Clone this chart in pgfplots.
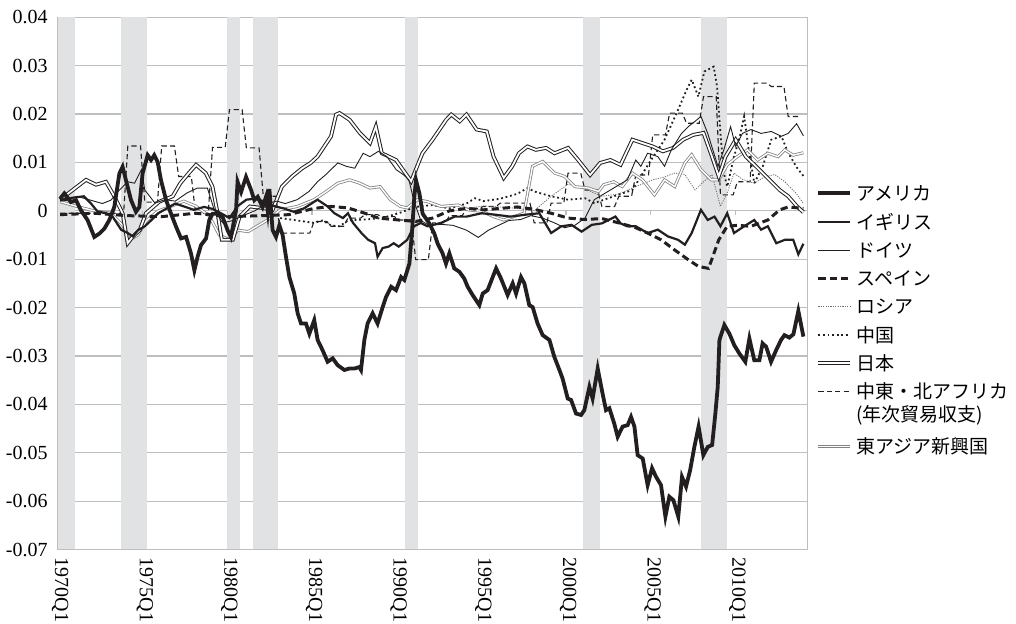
\documentclass[border=0pt]{standalone}
\usepackage{pgfplots}
\pgfplotsset{compat=1.18}
\usepackage{fontspec}
\setmainfont{Liberation Serif}
\newfontfamily\jp{Noto Sans CJK JP}
\definecolor{ink}{RGB}{35,31,32}
\definecolor{bandc}{RGB}{225,226,228}
\definecolor{gridc}{RGB}{190,190,190}
\definecolor{niec}{RGB}{130,130,130}
\tikzset{
  sUS/.style={ink, line width=1.9pt},
  sUK/.style={ink, line width=1.1pt},
  sDE/.style={ink, line width=0.45pt},
  sES/.style={ink, line width=1.5pt, dash pattern=on 3.6pt off 2pt},
  sRU/.style={ink!65, line width=0.4pt, dash pattern=on 0.6pt off 0.6pt},
  sCN/.style={ink, line width=0.9pt, dash pattern=on 0.9pt off 1.4pt},
  sJP/.style={ink, line width=0.5pt, double=white, double distance=0.9pt},
  sME/.style={ink, line width=0.55pt, dash pattern=on 2.6pt off 1.6pt},
  sNIE/.style={niec, line width=0.4pt, double=white, double distance=0.7pt},
  leg/.style={anchor=west, inner sep=0pt, font=\jp\fontsize{9.5}{11}\selectfont},
}
\begin{document}
\begin{tikzpicture}
\path[use as bounding box] (-29pt,-37.25pt) rectangle (479pt,274.75pt);
\begin{axis}[
  at={(0,0)}, anchor=south west, scale only axis,
  width=374.6pt, height=266.1pt,
  xmin=1969.875, xmax=2014.125, ymin=-0.07, ymax=0.04,
  axis line style={draw=gridc, line width=0.6pt},
  ymajorgrids, grid style={draw=gridc, line width=0.6pt},
  major tick length=0pt,
  scaled y ticks=false, scaled x ticks=false,
  ytick={-0.07,-0.06,-0.05,-0.04,-0.03,-0.02,-0.01,0,0.01,0.02,0.03,0.04},
  yticklabels={-0.07,-0.06,-0.05,-0.04,-0.03,-0.02,-0.01,0,0.01,0.02,0.03,0.04},
  yticklabel style={font=\fontsize{10}{12}\selectfont, inner sep=0pt, xshift=-5pt},
  xtick={1970,1975,1980,1985,1990,1995,2000,2005,2010},
  xticklabels={1970Q1,1975Q1,1980Q1,1985Q1,1990Q1,1995Q1,2000Q1,2005Q1,2010Q1},
  xticklabel style={font=\fontsize{10}{12}\selectfont, rotate=-90, anchor=west, inner sep=0pt},
  xticklabel shift=4pt,
  clip=true,
]
% recession bands
\addplot[fill=bandc, draw=none, forget plot] coordinates {(1969.875,-0.07) (1969.875,0.04) (1970.875,0.04) (1970.875,-0.07)};
\addplot[fill=bandc, draw=none, forget plot] coordinates {(1973.625,-0.07) (1973.625,0.04) (1975.125,0.04) (1975.125,-0.07)};
\addplot[fill=bandc, draw=none, forget plot] coordinates {(1979.875,-0.07) (1979.875,0.04) (1980.625,0.04) (1980.625,-0.07)};
\addplot[fill=bandc, draw=none, forget plot] coordinates {(1981.375,-0.07) (1981.375,0.04) (1982.875,0.04) (1982.875,-0.07)};
\addplot[fill=bandc, draw=none, forget plot] coordinates {(1990.375,-0.07) (1990.375,0.04) (1991.125,0.04) (1991.125,-0.07)};
\addplot[fill=bandc, draw=none, forget plot] coordinates {(2000.875,-0.07) (2000.875,0.04) (2001.875,0.04) (2001.875,-0.07)};
\addplot[fill=bandc, draw=none, forget plot] coordinates {(2007.875,-0.07) (2007.875,0.04) (2009.375,0.04) (2009.375,-0.07)};
\pgfplotsinvokeforeach{1974.875,1979.875,1984.875,1989.875,1994.875,1999.875,2004.875,2009.875}{
  \draw[gridc, line width=0.6pt] (axis cs:#1,0) -- (axis cs:#1,-0.0008);
}
% Middle East & North Africa (annual)
\addplot[sME] coordinates {(1970,-0.0005) (1973.75,-0.0005) (1974,0.0134) (1974.75,0.0134) (1975,0.0018) (1975.75,0.0018)
 (1976,0.0134) (1976.75,0.0134) (1977,0.0071) (1977.75,0.0071) (1978,-0.0005) (1978.75,-0.0005) (1979,0.0131) (1979.75,0.0131)
 (1980,0.0209) (1980.75,0.0209) (1981,0.013) (1981.75,0.013) (1982,0.003) (1982.75,0.003) (1983,-0.0046) (1984.75,-0.0046)
 (1985,-0.0022) (1985.75,-0.0022) (1986,-0.0032) (1986.75,-0.0032) (1987,-0.0015) (1987.75,-0.0015) (1988,-0.0008) (1988.75,-0.0008)
 (1989,-0.0012) (1989.75,-0.0012) (1990,-0.0019) (1990.75,-0.0019) (1991,-0.0101) (1991.75,-0.0101) (1992,-0.0025) (1992.75,-0.0025)
 (1993,-0.001) (1993.75,-0.001) (1994,0.0005) (1994.75,0.0005) (1995,0.0009) (1995.75,0.0009) (1996,0.0016) (1997.75,0.0016)
 (1998,-0.0025) (1998.75,-0.0025) (1999,0.0016) (1999.75,0.0016) (2000,0.0078) (2000.75,0.0078) (2001,0.0043) (2001.75,0.0043)
 (2002,0.0009) (2002.75,0.0009) (2003,0.003) (2003.75,0.003) (2004,0.0074) (2004.75,0.0074) (2005,0.0157) (2005.75,0.0157)
 (2006,0.0202) (2006.75,0.0202) (2007,0.0181) (2007.75,0.0181) (2008,0.0236) (2008.75,0.0236) (2009,0.0033) (2009.75,0.0033)
 (2010,0.006) (2010.75,0.006) (2011,0.0264) (2011.75,0.0264) (2012,0.0257) (2012.75,0.0257) (2013,0.0195) (2013.75,0.0195)};
% Russia
\addplot[sRU] coordinates {(1994,0.0005) (1995,0.001) (1996,0.0008) (1997,0.0005) (1998,0.0) (1999,0.003) (2000,0.0055)
 (2001,0.0045) (2002,0.003) (2003,0.0035) (2004,0.005) (2005,0.0064) (2005.7,0.007) (2006.3,0.0078) (2006.9,0.0075)
 (2007.5,0.0043) (2008,0.006) (2008.5,0.0075) (2009,0.0009) (2009.4,0.0037) (2009.8,0.0078) (2010.3,0.0065) (2011,0.0057)
 (2011.6,0.007) (2012.2,0.0075) (2012.8,0.006) (2013.5,0.0035) (2013.9,0.0015)};
% China
\addplot[sCN] coordinates {(1983,-0.0015) (1984,-0.002) (1985,-0.0025) (1985.5,-0.002) (1986,-0.003) (1986.5,-0.0032)
 (1987,-0.002) (1988,-0.0018) (1989,-0.0015) (1990,-0.0005) (1991,0.0008) (1992,0.0012) (1993,0.0005) (1994,0.0015)
 (1994.5,0.0026) (1995,0.002) (1996,0.0025) (1997,0.0035) (1997.6,0.0047) (1998,0.004) (1998.5,0.0035) (1999,0.003)
 (2000,0.0023) (2001,0.0026) (2001.55,0.0016) (2002.7,0.003) (2003.8,0.0043) (2004.9,0.0105) (2005.7,0.0147) (2006.5,0.0209)
 (2007,0.025) (2007.3,0.0271) (2007.7,0.0236) (2008.05,0.0288) (2008.6,0.0298) (2008.8,0.0257) (2009,0.016) (2009.2,0.0078)
 (2009.4,0.005) (2009.8,0.0112) (2010.1,0.0147) (2010.4,0.0195) (2010.7,0.012) (2011,0.0057) (2011.5,0.0092) (2012,0.0147)
 (2012.6,0.0154) (2013,0.012) (2013.5,0.009) (2013.9,0.0072)};
% East Asian NIEs
\addplot[sNIE] coordinates {(1970,0.0019) (1971,0.0009) (1972,0.0) (1973,-0.0005) (1973.7,-0.003) (1974.1,-0.006) (1974.6,-0.005)
 (1975.1,-0.002) (1975.8,0.0) (1976.6,0.001) (1977.3,0.002) (1978,0.001) (1978.8,-0.001) (1979.4,-0.005) (1980,-0.006)
 (1980.5,-0.004) (1981.1,-0.0043) (1982.25,-0.0019) (1983,0.0002) (1984,0.0009) (1985,0.0023) (1985.6,0.0037) (1986.4,0.0057)
 (1987.1,0.0064) (1987.7,0.0057) (1988.3,0.0047) (1988.9,0.005) (1989.5,0.0023) (1990.1,0.0009) (1990.5,0.0006) (1991.1,0.0023)
 (1991.7,0.0019) (1992.5,0.0009) (1993.5,0.0012) (1994.1,0.0002) (1994.9,-0.0001) (1995.6,-0.0012) (1996.2,-0.0019)
 (1996.8,-0.0012) (1997.4,-0.0005) (1997.9,0.0092) (1998.5,0.0102) (1999.2,0.0078) (1999.8,0.0071) (2000.4,0.005)
 (2001.2,0.0047) (2001.8,0.004) (2002.1,0.0054) (2002.7,0.006) (2003.2,0.005) (2003.8,0.0078) (2004.4,0.0064) (2005.1,0.0033)
 (2005.7,0.0064) (2006.3,0.005) (2006.9,0.0099) (2007.3,0.0116) (2007.85,0.0085) (2008.45,0.0064) (2008.9,0.0064)
 (2009.4,0.0095) (2010,0.0112) (2010.6,0.0126) (2011.2,0.0105) (2011.8,0.0119) (2012.4,0.0112) (2012.8,0.0126) (2013.3,0.0115)
 (2013.9,0.012)};
% Japan
\addplot[sJP] coordinates {(1970,0.0023) (1971.53,0.0064) (1972.12,0.0054) (1972.71,0.006) (1973.2,0.003) (1973.69,-0.0005)
 (1973.99,-0.0067) (1974.3,-0.0053) (1974.7,-0.004) (1975.07,-0.0005) (1975.86,0.0019) (1976.65,0.003) (1977.1,0.0057)
 (1977.6,0.0078) (1978.03,0.0095) (1978.6,0.0078) (1979,0.005) (1979.3,-0.0005) (1979.55,-0.006) (1980.2,-0.006)
 (1980.6,-0.0012) (1981.2,0.0009) (1981.9,0.0006) (1982.55,0.0002) (1983.1,0.005) (1983.7,0.0071) (1984.3,0.0088)
 (1984.8,0.0099) (1985.2,0.0112) (1985.6,0.0133) (1986,0.0154) (1986.3,0.0199) (1986.5,0.0202) (1987.1,0.0188) (1987.7,0.0161)
 (1988.3,0.014) (1988.65,0.0174) (1989,0.0119) (1989.84,0.0105) (1990.73,0.0061) (1991.4,0.0119) (1992,0.0147) (1992.8,0.0188)
 (1993.1,0.0199) (1993.6,0.0185) (1994,0.0199) (1994.6,0.0168) (1995.2,0.0164) (1995.6,0.0112) (1996.2,0.0068) (1996.7,0.0092)
 (1997.1,0.0119) (1997.6,0.0133) (1998.1,0.0126) (1998.7,0.013) (1999.2,0.0119) (2000,0.013) (2000.6,0.0105) (2001.3,0.0074)
 (2001.9,0.0099) (2002.5,0.0105) (2003.1,0.0095) (2003.8,0.0147) (2004.4,0.014) (2005,0.0133) (2005.6,0.0123) (2006.2,0.013)
 (2006.8,0.0147) (2007.4,0.0157) (2008,0.0161) (2008.5,0.0112) (2008.9,0.0071) (2009.3,0.0112) (2009.9,0.0147) (2010.5,0.0112)
 (2011.1,0.0092) (2011.7,0.0071) (2012.5,0.0043) (2013,0.003) (2013.5,0.001) (2013.9,-0.0003)};
% Spain
\addplot[sES] coordinates {(1970,-0.0008) (1972,-0.0005) (1974,-0.001) (1976,-0.0012) (1978,-0.0005) (1980,-0.0012) (1982,-0.001)
 (1983.5,-0.0008) (1985,0.0005) (1986,0.0009) (1987,0.0006) (1988,-0.0005) (1988.8,-0.0015) (1990,-0.0019) (1991,-0.0022)
 (1992,-0.0015) (1993,0.0) (1994,0.0005) (1995,0.0002) (1996,0.0005) (1997,0.0008) (1998,0.0003) (1999,-0.0005) (2000,-0.0015)
 (2001,-0.0018) (2002,-0.0016) (2003,-0.0025) (2004,-0.0035) (2004.7,-0.0046) (2005.5,-0.006) (2006.3,-0.0081) (2007.1,-0.0101)
 (2007.7,-0.0115) (2008.3,-0.0119) (2008.9,-0.006) (2009.4,-0.0032) (2010,-0.003) (2010.8,-0.0032) (2011.8,-0.0019)
 (2012.5,0.0002) (2013,0.0008) (2013.9,0.0005)};
% Germany
\addplot[sDE] coordinates {(1970,0.002) (1970.5,0.0022) (1971,0.003) (1971.5,0.0025) (1972,0.002) (1972.5,0.0015) (1973,0.0022)
 (1973.5,0.0043) (1974,0.006) (1974.4,0.0057) (1974.8,0.0085) (1975,0.0043) (1975.6,0.0016) (1976.2,0.0023) (1976.8,0.002)
 (1977.5,0.0037) (1978.1,0.0047) (1978.7,0.0047) (1979.1,0.0002) (1979.6,-0.0025) (1980.2,-0.002) (1980.8,-0.001) (1981.5,0.0)
 (1982.2,0.0015) (1982.8,0.002) (1983.3,0.0015) (1984,0.0023) (1984.7,0.004) (1985.2,0.006) (1985.7,0.0075) (1986.4,0.0099)
 (1986.9,0.0092) (1987.4,0.0088) (1987.9,0.0119) (1988.3,0.0112) (1988.8,0.0123) (1989.3,0.0112) (1989.85,0.0085)
 (1990.3,0.0074) (1990.6,0.0064) (1990.9,0.002) (1991.3,-0.002) (1991.8,-0.003) (1992.5,-0.0028) (1993.2,-0.003) (1994,-0.004)
 (1994.7,-0.0055) (1995.3,-0.004) (1995.9,-0.003) (1996.5,-0.002) (1997.2,-0.0018) (1997.8,-0.001) (1998.5,-0.0015)
 (1999.2,-0.0025) (1999.8,-0.0035) (2000.4,-0.003) (2001,-0.0015) (2001.55,0.0023) (2002.5,0.0043) (2003.5,0.0064)
 (2004,0.0105) (2004.3,0.0092) (2004.7,0.0119) (2005.3,0.0112) (2005.7,0.0092) (2006.1,0.0126) (2006.7,0.016) (2007.1,0.0174)
 (2007.5,0.0185) (2007.85,0.0195) (2008.25,0.016) (2008.85,0.0092) (2009.2,0.0126) (2009.6,0.0174) (2009.9,0.0133)
 (2010.3,0.016) (2010.8,0.0168) (2011.4,0.016) (2012,0.0164) (2012.6,0.0154) (2013,0.016) (2013.5,0.018) (2013.9,0.0155)};
% United Kingdom
\addplot[sUK] coordinates {(1970,0.0022) (1970.5,0.0026) (1971.4,0.003) (1971.8,0.0016) (1972.2,-0.0001) (1972.7,-0.0005)
 (1973.1,-0.0012) (1973.6,-0.0039) (1974,-0.0046) (1974.3,-0.0053) (1974.6,-0.004) (1975,-0.0032) (1975.4,-0.0019)
 (1975.8,-0.0005) (1976.3,0.0005) (1976.8,0.0015) (1977.4,0.0008) (1977.9,0.0002) (1978.5,0.0008) (1979,0.0004)
 (1979.5,-0.0005) (1980,-0.0015) (1980.5,0.001) (1981,0.0023) (1981.5,0.0025) (1982,0.002) (1982.6,0.001) (1983.2,0.0005)
 (1983.8,-0.0002) (1984.4,0.0005) (1985.2,0.0023) (1985.8,0.0009) (1986.2,-0.0005) (1986.7,-0.0015) (1987,-0.0005)
 (1987.3,-0.0025) (1987.8,-0.0046) (1988.2,-0.006) (1988.6,-0.0067) (1988.75,-0.0095) (1989.05,-0.0077) (1989.4,-0.0074)
 (1989.7,-0.0067) (1990,-0.0074) (1990.5,-0.006) (1990.9,-0.0032) (1991.3,-0.0025) (1991.7,-0.0032) (1992.5,-0.0025)
 (1993.3,-0.0012) (1994,-0.0012) (1994.9,-0.0005) (1995.7,-0.0008) (1996.6,-0.0012) (1997.5,-0.0008) (1998.3,-0.0005)
 (1999,-0.0046) (1999.6,-0.0032) (2000.2,-0.0029) (2000.8,-0.0043) (2001.4,-0.0029) (2002,-0.0026) (2002.8,-0.0012)
 (2003.1,-0.0026) (2003.5,-0.0032) (2004,-0.0032) (2004.7,-0.0046) (2005.3,-0.0039) (2005.9,-0.0053) (2006.5,-0.006)
 (2006.9,-0.007) (2007.3,-0.0046) (2007.85,0.0002) (2008.25,-0.0019) (2008.65,-0.0012) (2009,-0.0032) (2009.4,-0.0005)
 (2009.8,-0.0046) (2010.4,-0.0032) (2011,-0.0019) (2011.4,-0.0039) (2011.8,-0.0032) (2012.3,-0.0067) (2012.8,-0.006)
 (2013.3,-0.006) (2013.6,-0.009) (2013.9,-0.0068)};
% United States
\addplot[sUS] coordinates {(1970.00,0.0025) (1970.25,0.0036) (1970.64,0.0018) (1970.94,0.0022) (1971.23,0.0001) (1971.62,-0.0019)
 (1972.02,-0.0054) (1972.32,-0.0047) (1972.61,-0.0037) (1972.91,-0.0019) (1973.20,0.0008) (1973.50,0.0077) (1973.69,0.0091)
 (1973.89,0.0063) (1974.19,0.0022) (1974.48,-0.0002) (1974.68,0.0008) (1974.87,0.0077) (1975.17,0.0115) (1975.37,0.0105)
 (1975.56,0.0115) (1975.76,0.0101) (1975.96,0.0063) (1976.26,0.0022) (1976.55,-0.0006) (1976.85,-0.0033) (1977.14,-0.0057)
 (1977.44,-0.0054) (1977.73,-0.0088) (1977.93,-0.0123) (1978.12,-0.0095) (1978.32,-0.0071) (1978.62,-0.0057) (1978.81,-0.0019)
 (1979.01,-0.0006) (1979.30,-0.0006) (1979.60,-0.0013) (1979.89,-0.0040) (1980.09,-0.0054) (1980.39,0.0001) (1980.48,0.0060)
 (1980.69,0.0039) (1980.98,0.0070) (1981.28,0.0043) (1981.47,0.0022) (1981.67,0.0029) (1981.96,0.0008) (1982.16,0.0029)
 (1982.26,0.0001) (1982.36,0.0045) (1982.55,-0.0040) (1982.75,-0.0054) (1982.95,-0.0030) (1983.14,-0.0050) (1983.34,-0.0095)
 (1983.54,-0.0137) (1983.83,-0.0171) (1984.03,-0.0212) (1984.23,-0.0233) (1984.52,-0.0233) (1984.72,-0.0254) (1985.01,-0.0226)
 (1985.21,-0.0267) (1985.50,-0.0288) (1985.80,-0.0312) (1986.10,-0.0305) (1986.39,-0.0319) (1986.79,-0.0329) (1987.08,-0.0326)
 (1987.38,-0.0326) (1987.67,-0.0323) (1987.77,-0.0329) (1987.97,-0.0267) (1988.16,-0.0233) (1988.46,-0.0212) (1988.75,-0.0233)
 (1989.05,-0.0199) (1989.25,-0.0178) (1989.55,-0.0157) (1989.84,-0.0164) (1990.14,-0.0137) (1990.33,-0.0143) (1990.63,-0.0109)
 (1990.79,-0.0040) (1990.92,0.0029) (1991.02,0.0063) (1991.22,0.0036) (1991.41,-0.0006) (1991.81,-0.0026) (1992.10,-0.0047)
 (1992.30,-0.0068) (1992.59,-0.0088) (1992.79,-0.0109) (1992.99,-0.0088) (1993.28,-0.0119) (1993.58,-0.0126) (1993.87,-0.0140)
 (1994.07,-0.0157) (1994.36,-0.0174) (1994.76,-0.0195) (1994.96,-0.0171) (1995.25,-0.0164) (1995.75,-0.0119) (1996.04,-0.0140)
 (1996.43,-0.0174) (1996.73,-0.0150) (1996.93,-0.0171) (1997.22,-0.0137) (1997.42,-0.0150) (1997.71,-0.0195) (1997.91,-0.0199)
 (1998.20,-0.0233) (1998.50,-0.0257) (1998.90,-0.0267) (1999.19,-0.0302) (1999.49,-0.0329) (1999.68,-0.0347) (1999.98,-0.0388)
 (2000.18,-0.0391) (2000.47,-0.0419) (2000.77,-0.0422) (2000.96,-0.0412) (2001.26,-0.0364) (2001.45,-0.0388) (2001.75,-0.0326)
 (2002.04,-0.0378) (2002.24,-0.0412) (2002.44,-0.0408) (2002.73,-0.0440) (2002.93,-0.0467) (2003.22,-0.0446) (2003.52,-0.0443)
 (2003.72,-0.0426) (2003.92,-0.0446) (2004.11,-0.0505) (2004.41,-0.0512) (2004.70,-0.0567) (2004.96,-0.0532) (2005.20,-0.0550)
 (2005.49,-0.0567) (2005.75,-0.0632) (2005.98,-0.0591) (2006.22,-0.0598) (2006.51,-0.0632) (2006.73,-0.0550) (2006.97,-0.0570)
 (2007.21,-0.0536) (2007.46,-0.0488) (2007.71,-0.0446) (2007.99,-0.0505) (2008.25,-0.0488) (2008.51,-0.0484) (2008.70,-0.0419)
 (2008.84,-0.0364) (2008.94,-0.0267) (2009.23,-0.0236) (2009.53,-0.0254) (2009.82,-0.0278) (2010.12,-0.0295) (2010.47,-0.0312)
 (2010.71,-0.0264) (2011.00,-0.0309) (2011.30,-0.0309) (2011.49,-0.0274) (2011.70,-0.0281) (2011.99,-0.0312) (2012.29,-0.0288)
 (2012.58,-0.0267) (2012.78,-0.0257) (2013.07,-0.0262) (2013.31,-0.0255) (2013.60,-0.0207) (2013.90,-0.0260)};
\end{axis}
% legend
\draw[sUS] (380.2pt,178.1pt) -- (396pt,178.1pt);  \node[leg] at (399pt,178.1pt) {アメリカ};
\draw[sUK] (380.2pt,163.9pt) -- (396pt,163.9pt);  \node[leg] at (399pt,163.9pt) {イギリス};
\draw[sDE] (380.2pt,149.75pt) -- (396pt,149.75pt); \node[leg] at (399pt,149.75pt) {ドイツ};
\draw[sES] (380.2pt,135.6pt) -- (396pt,135.6pt);  \node[leg] at (399pt,135.6pt) {スペイン};
\draw[sRU] (380.2pt,121.4pt) -- (396pt,121.4pt);  \node[leg] at (399pt,121.4pt) {ロシア};
\draw[sCN] (380.2pt,107.25pt) -- (396pt,107.25pt); \node[leg] at (399pt,107.25pt) {中国};
\draw[sJP] (380.2pt,93.1pt) -- (396pt,93.1pt);    \node[leg] at (399pt,93.1pt) {日本};
\draw[sME] (380.2pt,78.9pt) -- (396pt,78.9pt);    \node[leg] at (399pt,78.9pt) {中東・北アフリカ};
\node[leg] at (399pt,67.25pt) {(年次貿易収支)};
\draw[sNIE] (380.2pt,51.4pt) -- (396pt,51.4pt);   \node[leg] at (399pt,51.4pt) {東アジア新興国};
\end{tikzpicture}
\end{document}
